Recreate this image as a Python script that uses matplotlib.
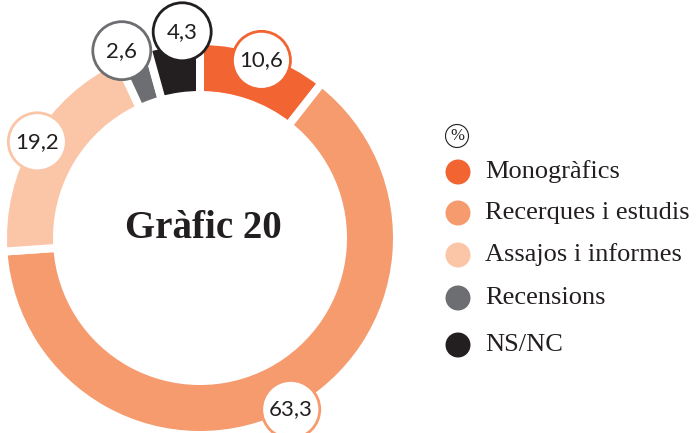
import numpy as np
import matplotlib.pyplot as plt
from matplotlib.patches import Circle

# data
categories = ['Monogràfics', 'Recerques i estudis', 'Assajos i informes', 'Recensions', 'NS/NC']
values = [10.6, 63.3, 19.2, 2.6, 4.3]
colors = ['#F26532', '#F59B6E', '#FBC5A7', '#6D6E71', '#231F20']
title = 'Gràfic 20'
unit = '%'

# layout (pixel coordinates, y measured from the bottom)
W, H = 697, 433
cx, cy = 200, 195
r_out, ring = 193, 46
gap = 8
label_r = [188, 194, 189, 203, 207]
label_shift = [0, 0, 0, -2.5, 2.8]   # degrees, clockwise
lab_rad = 29

fig = plt.figure(figsize=(W / 100, H / 100), dpi=100)
ax = fig.add_axes([0, 0, 1, 1])

gap_pt = gap * 72 / 100
ax.pie(values, colors=colors, startangle=90, counterclock=False,
       center=(cx, cy), radius=r_out + gap / 2,
       wedgeprops=dict(width=ring + gap, edgecolor='white', linewidth=gap_pt))

ax.set_xlim(0, W)
ax.set_ylim(0, H)
ax.set_aspect('equal')
ax.axis('off')

# value labels
cum = np.cumsum([0] + values[:-1])
for i, v in enumerate(values):
    cw = (cum[i] + v / 2) / sum(values) * 360 + label_shift[i]
    a = np.radians(90 - cw)
    x = cx + label_r[i] * np.cos(a)
    y = cy + label_r[i] * np.sin(a)
    ax.add_patch(Circle((x, y), lab_rad, facecolor='white', edgecolor=colors[i],
                        linewidth=2, zorder=5))
    ax.text(x, y, f'{v:.1f}'.replace('.', ','), ha='center', va='center',
            fontsize=16, family='Lato', color='#231F20', zorder=6)

# centre title
ax.text(cx + 3, cy + 10, title, ha='center', va='center', fontsize=28,
        family='Liberation Serif', fontweight='bold', color='#231F20')

# legend
ax.add_patch(Circle((457, H - 136), 11.5, facecolor='white', edgecolor='#231F20', linewidth=0.8))
ax.text(457, H - 136, unit, ha='center', va='center', fontsize=12,
        family='Liberation Serif', color='#231F20')
rows = [172, 213, 255, 298, 345]
for i, name in enumerate(categories):
    y = H - rows[i]
    ax.add_patch(Circle((458, y), 12.5, facecolor=colors[i], edgecolor='none'))
    ax.text(485, y, name, ha='left', va='center', fontsize=19,
            family='Liberation Serif', color='#231F20')

fig.savefig('out.png', dpi=100)
